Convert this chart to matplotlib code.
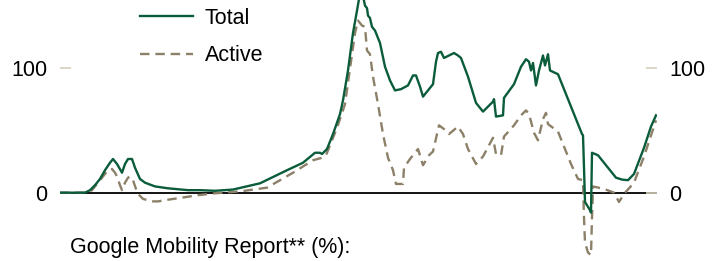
import matplotlib
matplotlib.use("Agg")
import matplotlib.pyplot as plt
import numpy as np

plt.rcParams['font.family'] = ['Liberation Sans', 'DejaVu Sans']

# period index (evenly spaced time axis) and index values
total_x = [0, 25, 30, 35, 40, 45, 50, 53, 57, 62, 65, 68, 72, 75, 80, 85, 95, 108, 128,
           140, 155, 173, 200, 227, 243, 255, 260, 262, 267, 273, 280, 283, 288, 293,
           297, 300, 303, 305, 307, 308, 310, 312, 315, 320, 325, 330, 335, 341, 348,
           353, 356, 360, 363, 368, 373, 376, 378, 381, 384, 389, 394, 398, 401, 408,
           416, 423, 428, 433, 434, 436, 443, 444, 454, 461, 466, 469, 471, 473, 476,
           479, 483, 485, 488, 490, 498, 503, 511, 518, 522, 523, 524, 525, 530, 531,
           532, 538, 546, 552, 556, 562, 568, 574, 584, 591, 596]
total_v = [0, 0, 2, 6, 11, 18, 24, 27, 23, 16, 23, 27, 27, 20, 11, 8, 5, 3.5, 2,
           2, 1.5, 2.5, 7.5, 18, 24, 32, 32, 31, 35, 47, 63, 74, 98, 128,
           146, 160, 158, 150, 148, 142, 140, 133, 130, 120, 101, 90, 82, 83, 86,
           94, 94, 85, 77, 82, 87, 105, 112, 113, 108, 110, 112, 110, 108, 93,
           72, 65, 69, 73, 75, 61, 62, 76, 87, 101, 107, 105, 98, 104, 86,
           98, 110, 102, 111, 98, 95, 85, 69, 55, 47, 46, 20, -7.5, -14, -16,
           32, 30, 22, 16, 12, 10.5, 10, 15, 36, 53, 62]

active_x = [0, 27, 32, 38, 43, 48, 52, 55, 57, 60, 62, 65, 68, 70, 73, 76, 78, 83, 92,
            98, 105, 122, 138, 155, 180, 207, 233, 253, 262, 266, 268, 277, 285, 292,
            295, 298, 302, 305, 307, 310, 313, 318, 323, 328, 333, 336, 343, 344, 350,
            354, 358, 363, 369, 373, 379, 384, 389, 398, 403, 408, 416, 423, 431, 433,
            436, 441, 444, 454, 461, 466, 469, 474, 478, 483, 486, 488, 498, 504, 511,
            518, 523, 524, 525, 528, 531, 532, 533, 544, 554, 559, 564, 574, 584, 596]
active_v = [0, 0, 2, 8, 13, 18, 19, 16, 13, 6, 2, 8, 12, 13, 10, 3, -1, -5, -7,
            -7, -6, -4, -2, -0.5, 1, 4, 16, 26, 28, 30, 34, 52, 71, 111,
            128, 138, 134, 133, 114, 111, 93, 71, 47, 28, 18, 7, 7, 20, 27,
            31, 35, 22, 30, 33, 54, 51, 47, 53, 47, 35, 23, 29, 41, 44,
            31, 30, 45, 54, 62, 66, 63, 48, 42, 59, 64, 55, 49, 37, 23,
            11, 10, -20, -40, -48, -50, -20, 5, 3, 0, -7.5, -1, 8, 29, 58]

series_names = ['Total', 'Active']
ytick_vals = [0, 100]

green = '#0a5c3a'
tan = '#8c8068'
tick_col = '#d6cfbb'
fs = 15.5

fig = plt.figure(figsize=(7.22, 2.61), dpi=100)
ax = fig.add_axes([60 / 722, 0, 597 / 722, 1])

ax.axhline(0, color='black', lw=1.3, zorder=1)
ax.plot(total_x, total_v, color=green, lw=1.7, label=series_names[0], zorder=3)
ax.plot(active_x, active_v, color=tan, lw=1.7, ls=(0, (4, 2.5)), label=series_names[1], zorder=2)

ax.set_xlim(0, 597)
ax.set_ylim(-54.8, 154.5)
for s in ax.spines.values():
    s.set_visible(False)
ax.set_xticks([])
ax.set_yticks(ytick_vals)
ax.tick_params(axis='y', direction='in', length=8, width=1.2, color=tick_col,
               labelsize=fs, pad=9, left=True, right=True,
               labelleft=True, labelright=True)

leg = ax.legend(loc='upper left', bbox_to_anchor=(120.5 / 722, 1.0445), bbox_transform=fig.transFigure,
                frameon=False, fontsize=fs, handlelength=2.45, handletextpad=0.56,
                labelspacing=0.77)

fig.text(70 / 722, 1 - 248 / 261, 'Google Mobility Report** (%):', fontsize=fs,
         va='center', ha='left')

fig.savefig('out.png', dpi=100)
